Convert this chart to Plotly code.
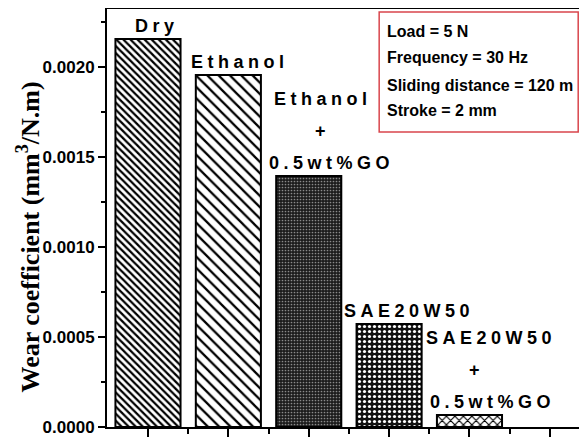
import plotly.graph_objects as go

# ---- data ----
categories = ["Dry", "Ethanol", "Ethanol + 0.5wt%GO", "SAE20W50", "SAE20W50 + 0.5wt%GO"]
wear_coefficient = [0.002156, 0.001956, 0.001394, 0.000572, 0.0000667]
bar_label_lines = [["Dry"], ["Ethanol"], ["Ethanol", "+", "0.5wt%GO"], ["SAE20W50"],
                   ["SAE20W50", "+", "0.5wt%GO"]]
y_tick_values = [0.0, 0.0005, 0.0010, 0.0015, 0.0020]
y_tick_labels = ["0.0000", "0.0005", "0.0010", "0.0015", "0.0020"]
y_title = "Wear coefficient (mm<sup>3</sup>/N.m)"
conditions = ["Load = 5 N", "Frequency = 30 Hz", "Sliding distance = 120 m", "Stroke = 2 mm"]

# ---- styling ----
x_pos = list(range(1, len(categories) + 1))
pattern_shape = ["\\", "\\", ".", ".", "x"]
pattern_fg = ["black", "black", "#8a8a8a", "white", "black"]
pattern_bg = ["white", "white", "#1c1c1c", "#111111", "white"]
pattern_size = [5, 8, 3, 5, 6]
pattern_solid = [0.45, 0.28, 0.25, 0.32, 0.35]
# per-line x shifts (px) for the labels
label_xshift = [[9], [12], [14, 14, 23], [20], [22, 7, 23]]
label_font = dict(family="Liberation Sans, Arial", size=18, color="black", weight="bold")

fig = go.Figure()
fig.add_trace(go.Bar(
    x=x_pos, y=wear_coefficient, width=0.81,
    marker=dict(color="white", line=dict(color="black", width=2),
                pattern=dict(shape=pattern_shape, fgcolor=pattern_fg, bgcolor=pattern_bg,
                             size=pattern_size, solidity=pattern_solid, fillmode="replace")),
    hovertext=categories, showlegend=False,
))

annotations = []
for xi, val, lines, shifts in zip(x_pos, wear_coefficient, bar_label_lines, label_xshift):
    n = len(lines)
    for k, (line, sh) in enumerate(zip(lines, shifts)):
        annotations.append(dict(
            x=xi, y=val, xref="x", yref="y", showarrow=False,
            text=f'<span style="letter-spacing:4.5px">{line}</span>',
            font=label_font, xanchor="center", yanchor="bottom",
            xshift=sh, yshift=1 + 32 * (n - 1 - k),
        ))

cond_y = [0.945, 0.883, 0.818, 0.756]
for line, yy in zip(conditions, cond_y):
    annotations.append(dict(
        x=0.585, y=yy, xref="x domain", yref="y domain", showarrow=False,
        text=line, xanchor="left", yanchor="middle",
        font=dict(family="Liberation Sans, Arial", size=16, color="black", weight="bold"),
    ))

annotations.append(dict(
    x=-0.165, y=0.455, xref="x domain", yref="y domain", showarrow=False,
    text=y_title, textangle=-90, xanchor="center", yanchor="middle",
    font=dict(family="Liberation Serif, Times New Roman", size=26, color="black", weight="bold"),
))

fig.add_shape(type="rect", xref="x domain", yref="y domain",
              x0=0.573, x1=0.992, y0=0.706, y1=0.993,
              line=dict(color="#d9464c", width=1.5), fillcolor="rgba(0,0,0,0)")

# the page body adds an 8px offset; margins compensate so the plot area lands at 107..582 x 9..427
fig.update_layout(
    width=587, height=437,
    margin=dict(l=99, r=13, t=1, b=18),
    paper_bgcolor="white", plot_bgcolor="white",
    annotations=annotations,
)
fig.update_xaxes(
    range=[0.49, 6.4], tickmode="array", tickvals=[1, 2, 3, 4, 5, 6], showticklabels=False,
    ticks="outside", ticklen=8, tickwidth=2, tickcolor="black",
    minor=dict(tickmode="array", tickvals=[1.5, 2.5, 3.5, 4.5, 5.5], ticks="outside",
               ticklen=5, tickwidth=2, tickcolor="black"),
    showline=True, linewidth=2, linecolor="black", mirror=True,
    showgrid=False, zeroline=False, automargin=False,
)
fig.update_yaxes(
    range=[0, 0.002322], tickmode="array", tickvals=y_tick_values, ticktext=y_tick_labels,
    ticks="outside", ticklen=7, tickwidth=2, tickcolor="black",
    minor=dict(tickmode="array", tickvals=[0.00025, 0.00075, 0.00125, 0.00175, 0.00225],
               ticks="outside", ticklen=4, tickwidth=2, tickcolor="black"),
    tickfont=dict(family="Liberation Sans, Arial", size=17, color="black", weight="bold"),
    showline=True, linewidth=2, linecolor="black", mirror=True,
    showgrid=False, zeroline=False, automargin=False,
)

fig.write_html("out.html")
